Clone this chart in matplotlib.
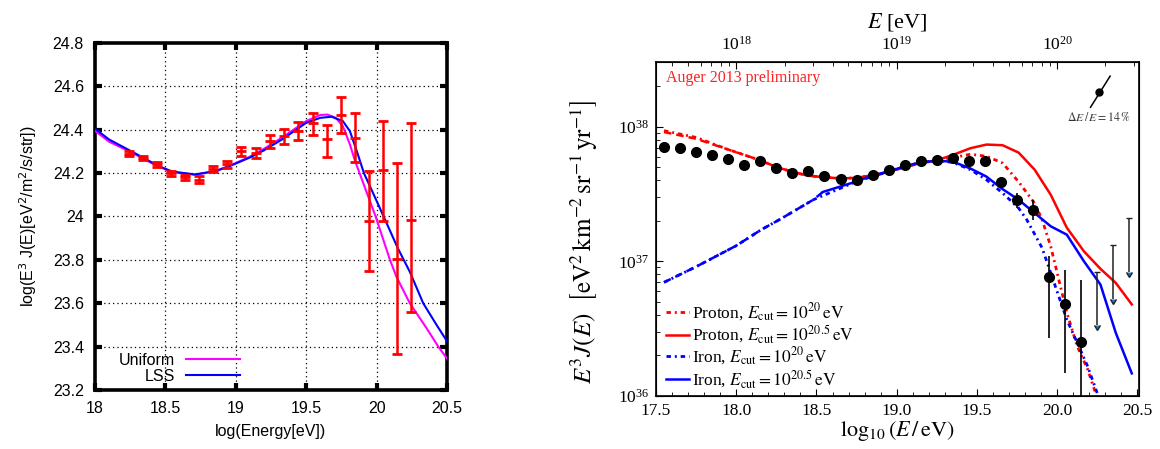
import numpy as np
import matplotlib
matplotlib.use("Agg")
import matplotlib.pyplot as plt
from matplotlib.font_manager import FontProperties
from matplotlib.ticker import MultipleLocator, FormatStrFormatter, LogLocator, LogFormatterMathtext, NullFormatter

# ---- left panel: measured spectrum and two model curves
obs_x = [18.24, 18.34, 18.44, 18.54, 18.64, 18.74, 18.84, 18.94, 19.04, 19.14, 19.24,
         19.34, 19.445, 19.545, 19.645, 19.748, 19.848, 19.945, 20.045, 20.145, 20.245]
obs_y = [24.29, 24.27, 24.24, 24.20, 24.18, 24.17, 24.22, 24.24, 24.30, 24.295, 24.348,
         24.37, 24.394, 24.432, 24.356, 24.47, 24.363, 23.979, 24.214, 23.803, 23.986]
obs_err_hi = [0.01, 0.01, 0.01, 0.012, 0.012, 0.015, 0.015, 0.015, 0.02, 0.023, 0.03,
              0.035, 0.04, 0.046, 0.068, 0.081, 0.115, 0.231, 0.226, 0.443, 0.443]
obs_err_lo = [0.01, 0.01, 0.01, 0.012, 0.012, 0.015, 0.015, 0.015, 0.02, 0.023, 0.03,
              0.035, 0.04, 0.057, 0.082, 0.087, 0.111, 0.231, 0.235, 0.436, 0.427]

lss_x = [18.0, 18.1, 18.26, 18.45, 18.55, 18.71, 18.86, 18.97, 19.1, 19.2, 19.33, 19.5,
         19.6, 19.68, 19.76, 19.81, 19.855, 19.91, 19.97, 20.05, 20.152, 20.236, 20.331,
         20.426, 20.5]
lss_y = [24.405, 24.355, 24.30, 24.233, 24.207, 24.194, 24.21, 24.236, 24.272, 24.305,
         24.356, 24.432, 24.455, 24.46, 24.44, 24.394, 24.31, 24.20, 24.115, 24.0, 23.852,
         23.745, 23.6, 23.5, 23.425]
uni_x = [18.0, 18.1, 18.26, 18.45, 18.55, 18.71, 18.86, 18.97, 19.1, 19.2, 19.33, 19.5,
         19.6, 19.65, 19.71, 19.76, 19.81, 19.845, 19.879, 19.993, 20.095, 20.141, 20.236,
         20.355, 20.438, 20.5]
uni_y = [24.395, 24.345, 24.295, 24.23, 24.205, 24.192, 24.21, 24.238, 24.276, 24.312,
         24.365, 24.44, 24.468, 24.47, 24.455, 24.417, 24.333, 24.26, 24.2, 24.0,
         23.8, 23.722, 23.6, 23.485, 23.4, 23.345]

# ---- right panel: Auger 2013 points (log10 of E^3 J) and model curves
auger_x = [17.55, 17.65, 17.75, 17.85, 17.95, 18.05, 18.15, 18.25, 18.35, 18.45, 18.55,
           18.65, 18.75, 18.85, 18.95, 19.05, 19.15, 19.25, 19.35, 19.45, 19.55, 19.65,
           19.75, 19.85, 19.95, 20.05, 20.15]
auger_log = [37.852, 37.842, 37.81, 37.788, 37.763, 37.714, 37.748, 37.69, 37.657, 37.672,
             37.635, 37.61, 37.603, 37.644, 37.677, 37.716, 37.748, 37.751, 37.768, 37.746,
             37.748, 37.588, 37.457, 37.378, 36.881, 36.68, 36.40]
auger_dex_hi = [0]*22 + [0.054, 0.074, 0.161, 0.258, 0.459]
auger_dex_lo = [0]*22 + [0.061, 0.069, 0.449, 0.507, 1.0]

ul_x = [20.25, 20.35, 20.45]
ul_top = [36.92, 37.12, 37.32]
ul_tip = [36.524, 36.72, 36.92]

p20_x = [17.55, 17.75, 17.95, 18.15, 18.25, 18.35, 18.45, 18.55, 18.65, 18.75, 18.85, 18.95,
         19.05, 19.15, 19.25, 19.35, 19.46, 19.56, 19.66, 19.76, 19.86, 19.906, 19.96, 20.01,
         20.06, 20.125, 20.19, 20.24]
p20_y = [37.97, 37.92, 37.83, 37.75, 37.70, 37.665, 37.635, 37.625, 37.615, 37.62, 37.64,
         37.665, 37.70, 37.73, 37.75, 37.77, 37.795, 37.78, 37.73, 37.59, 37.43, 37.31,
         37.11, 36.865, 36.62, 36.37, 36.198, 36.02]
p205_x = [17.55, 17.75, 17.95, 18.15, 18.25, 18.35, 18.45, 18.55, 18.65, 18.75, 18.85, 18.95,
          19.05, 19.15, 19.25, 19.35, 19.46, 19.56, 19.66, 19.76, 19.86, 19.96, 20.06, 20.167,
          20.27, 20.365, 20.465]
p205_y = [37.96, 37.91, 37.83, 37.75, 37.70, 37.665, 37.635, 37.625, 37.615, 37.62, 37.64,
          37.665, 37.70, 37.73, 37.75, 37.79, 37.84, 37.867, 37.862, 37.807, 37.68, 37.494,
          37.25, 37.074, 36.944, 36.84, 36.68]
fe20_x = [17.55, 17.75, 18.0, 18.156, 18.27, 18.48, 18.75, 18.95, 19.06, 19.16, 19.26, 19.35,
          19.46, 19.56, 19.66, 19.76, 19.81, 19.906, 19.96, 20.01, 20.06, 20.125, 20.19, 20.25]
fe20_y = [36.844, 36.96, 37.116, 37.235, 37.31, 37.457, 37.593, 37.667, 37.709, 37.736,
          37.746, 37.735, 37.68, 37.605, 37.507, 37.395, 37.31, 37.10, 36.914, 36.74, 36.568,
          36.395, 36.22, 36.02]
fe205_x = [17.55, 17.75, 18.0, 18.156, 18.27, 18.48, 18.54, 18.75, 18.83, 18.954, 19.056,
           19.156, 19.256, 19.35, 19.458, 19.558, 19.66, 19.76, 19.86, 19.96, 20.06, 20.167,
           20.27, 20.365, 20.465]
fe205_y = [36.844, 36.96, 37.116, 37.235, 37.31, 37.457, 37.515, 37.593, 37.63, 37.667, 37.709,
           37.736, 37.746, 37.74, 37.69, 37.63, 37.536, 37.457, 37.358, 37.26, 37.198, 37.0,
           36.827, 36.47, 36.168]

# energy-scale marker (Delta E / E = 14%)
de_x = [20.208, 20.33]
de_log = [38.144, 38.375]
de_dot = (20.262, 38.26)

fig = plt.figure(figsize=(11.6, 4.49), dpi=100, facecolor='white')

# ================= left panel =================
sans = 'Liberation Sans'
ax = fig.add_axes([95/1160, 59/449, 352/1160, 347/449])
ax.plot(uni_x, uni_y, color='#ff00ff', lw=1.5, label='Uniform', zorder=3)
ax.plot(lss_x, lss_y, color='#0000ff', lw=1.5, label='LSS', zorder=4)
ax.errorbar(obs_x, obs_y, yerr=[obs_err_lo, obs_err_hi], fmt='_', color='#ff0000',
            ms=7, mew=2, elinewidth=1.8, capsize=3.5, capthick=1.8, zorder=5)
ax.set_xlim(18, 20.5)
ax.set_ylim(23.2, 24.8)
ax.xaxis.set_major_locator(MultipleLocator(0.5))
ax.yaxis.set_major_locator(MultipleLocator(0.2))
ax.xaxis.set_major_formatter(FormatStrFormatter('%g'))
ax.yaxis.set_major_formatter(FormatStrFormatter('%g'))
ax.grid(True, color='black', linestyle=(0, (1, 2.5)), lw=0.9)
ax.tick_params(direction='in', length=5, width=3, top=True, right=True,
               labelsize=11.5, pad=8)
for t in ax.get_xticklabels() + ax.get_yticklabels():
    t.set_family(sans)
for s in ax.spines.values():
    s.set_linewidth(2.6)
ax.set_xlabel('log(Energy[eV])', family=sans, fontsize=11.5, labelpad=6)
ax.set_ylabel('log(E$^3$ J(E)[eV$^2$/m$^2$/s/str])', family=sans, fontsize=11.5,
              labelpad=10, math_fontfamily='dejavusans')
leg = ax.legend(loc='lower left', bbox_to_anchor=(0.035, -0.014), frameon=False,
                markerfirst=False, handlelength=3.4, handletextpad=0.7,
                labelspacing=0.05, borderaxespad=0.3,
                prop=FontProperties(family=sans, size=11.5))

# ================= right panel =================
serif = 'Liberation Serif'
fp = lambda s: FontProperties(family=serif, size=s, math_fontfamily='stix')
ax2 = fig.add_axes([656/1160, 53/449, 483/1160, 334/449])
ax2.set_yscale('log')

def seg(xs, ys, lo, hi):
    xs = np.array(xs); ys = np.array(ys)
    m = (xs >= lo) & (xs <= hi)
    return xs[m], 10**ys[m]

dots = (0, (1.6, 1.4, 0.7, 1.4))
ax2.plot(p20_x, 10**np.array(p20_y), color='#ff0000', lw=2.0, ls=dots,
         label=r'Proton, $E_\mathrm{cut} = 10^{20}\,\mathrm{eV}$')
xx, yy = seg(p205_x, p205_y, 17.5, 18.15)
ax2.plot(xx, yy, color='#ff0000', lw=1.8, ls=(0, (3, 2)))
xx, yy = seg(p205_x, p205_y, 18.15, 21)
ax2.plot(xx, yy, color='#ff0000', lw=1.8,
         label=r'Proton, $E_\mathrm{cut} = 10^{20.5}\,\mathrm{eV}$')
ax2.plot(fe20_x, 10**np.array(fe20_y), color='#0000ff', lw=2.0, ls=dots,
         label=r'Iron, $E_\mathrm{cut} = 10^{20}\,\mathrm{eV}$')
xx, yy = seg(fe205_x, fe205_y, 17.5, 18.54)
ax2.plot(xx, yy, color='#0000ff', lw=1.8, ls=(0, (3, 2)))
xx, yy = seg(fe205_x, fe205_y, 18.54, 21)
ax2.plot(xx, yy, color='#0000ff', lw=1.8,
         label=r'Iron, $E_\mathrm{cut} = 10^{20.5}\,\mathrm{eV}$')

a_log = np.array(auger_log)
a_y = 10**a_log
a_lo = a_y - 10**(a_log - np.array(auger_dex_lo))
a_hi = 10**(a_log + np.array(auger_dex_hi)) - a_y
ax2.errorbar(auger_x, a_y, yerr=[a_lo, a_hi], fmt='o', color='black', ms=7,
             elinewidth=1.2, capsize=0, zorder=6)
u_top = 10**np.array(ul_top)
u_len = u_top - 10**np.array(ul_tip)
ax2.errorbar(ul_x, u_top, yerr=u_len, uplims=True, fmt='none', ecolor='#222222',
             elinewidth=1.1, capsize=2.5, capthick=1.0, zorder=6)

# energy-scale marker
ax2.plot(de_x, 10**np.array(de_log), color='black', lw=1.1)
ax2.plot([de_dot[0]], [10**de_dot[1]], 'o', color='black', ms=5)
ax2.text(de_dot[0], 10**(de_log[0] - 0.075), r'$\Delta E\,/\,E = 14\,\%$',
         ha='center', va='center', fontproperties=fp(8.5), color='#333333')

ax2.text(0.02, 0.952, 'Auger 2013 preliminary', transform=ax2.transAxes,
         color='#ff2020', fontproperties=fp(11.5), va='center', ha='left')

ax2.set_xlim(17.5, 20.51)
ax2.set_ylim(1e36, 10**38.48)
ax2.xaxis.set_major_locator(MultipleLocator(0.5))
ax2.xaxis.set_minor_locator(MultipleLocator(0.1))
ax2.xaxis.set_major_formatter(FormatStrFormatter('%.1f'))
ax2.yaxis.set_major_locator(LogLocator(base=10, numticks=10))
ax2.yaxis.set_minor_locator(LogLocator(base=10, subs=np.arange(2, 10), numticks=10))
ax2.yaxis.set_major_formatter(LogFormatterMathtext())
ax2.yaxis.set_minor_formatter(NullFormatter())
ax2.tick_params(which='both', direction='in', top=False, right=False)
ax2.tick_params(which='major', length=5, width=0.8, labelsize=12.5, pad=5)
ax2.tick_params(which='minor', length=3, width=0.6)
for t in ax2.get_xticklabels() + ax2.get_yticklabels():
    t.set_family(serif)
for s in ax2.spines.values():
    s.set_linewidth(1.2)
ax2.set_xlabel(r'$\log_{10}(E\,/\,\mathrm{eV})$', fontproperties=fp(16), labelpad=0)
ax2.set_ylabel(r'$E^3 J(E)\ \ \left[\mathrm{eV}^2\,\mathrm{km}^{-2}\,\mathrm{sr}^{-1}\,\mathrm{yr}^{-1}\right]$',
               fontproperties=fp(18))
ax2.yaxis.set_label_coords(-0.116, 0.46)

axt = ax2.twiny()
axt.set_xscale('log')
axt.set_xlim(10**17.5, 10**20.51)
axt.xaxis.set_major_locator(LogLocator(base=10, numticks=10))
axt.xaxis.set_minor_locator(LogLocator(base=10, subs=np.arange(2, 10), numticks=10))
axt.xaxis.set_major_formatter(LogFormatterMathtext())
axt.xaxis.set_minor_formatter(NullFormatter())
axt.tick_params(which='both', direction='in')
axt.tick_params(which='major', length=5, width=0.8, labelsize=12.5, pad=6)
axt.tick_params(which='minor', length=3, width=0.6)
for t in axt.get_xticklabels():
    t.set_family(serif)
axt.set_xlabel(r'$E$ [eV]', fontproperties=fp(16), labelpad=6)

h, l = ax2.get_legend_handles_labels()
ax2.legend(h, l, loc='lower left', bbox_to_anchor=(0.0, -0.012), frameon=False,
           handlelength=1.3, handletextpad=0.15, labelspacing=0.02,
           borderaxespad=0.2, prop=fp(12.5))

fig.savefig('out.png', dpi=100, facecolor='white')
